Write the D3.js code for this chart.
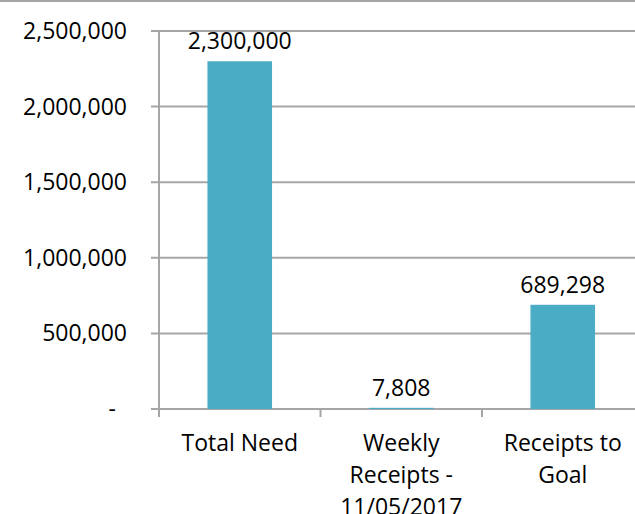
<!DOCTYPE html>
<html><head><meta charset="utf-8">
<script src="https://cdn.jsdelivr.net/npm/d3@7/dist/d3.min.js"></script>
<style>body{margin:0;background:#fff;}svg{display:block;font-family:"Open Sans",sans-serif;}</style>
</head><body>
<script>
const categories = [["Total Need"], ["Weekly", "Receipts -", "11/05/2017"], ["Receipts to", "Goal"]];
const values = [2300000, 7808, 689298];
const yTicks = [0, 500000, 1000000, 1500000, 2000000, 2500000];

const W = 635, H = 514;
const m = {left: 159, top: 31, bottom: 105};
const plotW = 484.5;
const svg = d3.select("body").append("svg").attr("width", W).attr("height", H);

const x = d3.scaleBand().domain(d3.range(categories.length)).range([m.left, m.left + plotW]).paddingInner(0.6).paddingOuter(0.3);
const xStep = d3.scaleLinear().domain([0, categories.length]).range([m.left, m.left + plotW]);
const y = d3.scaleLinear().domain([0, 2500000]).range([H - m.bottom, m.top]);

const grid = "#a6a6a6";
// top border
svg.append("line").attr("x1", 0).attr("x2", W).attr("y1", 1).attr("y2", 1).attr("stroke", grid).attr("stroke-width", 2);

// gridlines
svg.append("g").selectAll("line").data(yTicks).join("line")
  .attr("x1", m.left - 8).attr("x2", W).attr("y1", d => y(d)).attr("y2", d => y(d))
  .attr("stroke", grid).attr("stroke-width", 2);

// y axis line
svg.append("line").attr("x1", m.left).attr("x2", m.left).attr("y1", y(2500000)).attr("y2", y(0) + 8)
  .attr("stroke", grid).attr("stroke-width", 2);

// category ticks
svg.append("g").selectAll("line").data(d3.range(categories.length + 1)).join("line")
  .attr("x1", d => xStep(d)).attr("x2", d => xStep(d)).attr("y1", y(0)).attr("y2", y(0) + 8)
  .attr("stroke", grid).attr("stroke-width", 2);

// y labels
const fmt = d3.format(",");
svg.append("g").selectAll("text").data(yTicks).join("text")
  .attr("x", d => d === 0 ? 116 : 127).attr("y", d => y(d)).attr("dy", "0.35em")
  .attr("text-anchor", "end").attr("font-size", 23).attr("fill", "#000")
  .text(d => d === 0 ? "-" : fmt(d));

// bars
svg.append("g").selectAll("rect").data(values).join("rect")
  .attr("x", (d, i) => x(i)).attr("width", x.bandwidth())
  .attr("y", d => y(d)).attr("height", d => y(0) - y(d))
  .attr("fill", "#4BACC6");

// value labels
svg.append("g").selectAll("text").data(values).join("text")
  .attr("x", (d, i) => x(i) + x.bandwidth() / 2).attr("y", d => y(d) - 12)
  .attr("text-anchor", "middle").attr("font-size", 23).attr("fill", "#000")
  .text(d => fmt(d));

// category labels
const cg = svg.append("g").selectAll("text").data(categories).join("text")
  .attr("text-anchor", "middle").attr("font-size", 23).attr("fill", "#000");
cg.selectAll("tspan").data((d, i) => d.map(s => ({s, i}))).join("tspan")
  .attr("x", d => x(d.i) + x.bandwidth() / 2)
  .attr("y", (d, j) => y(0) + 42 + j * 32)
  .text(d => d.s);
</script>
</body></html>
